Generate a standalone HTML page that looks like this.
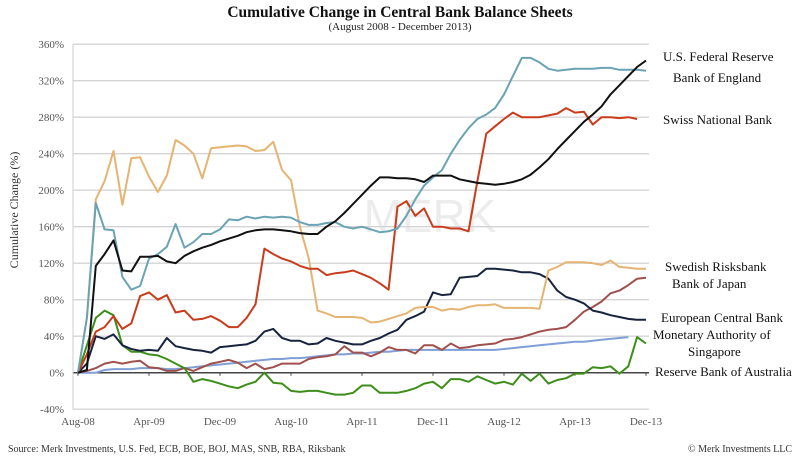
<!DOCTYPE html>
<html><head><meta charset="utf-8">
<style>
body{margin:0;background:#fff;}
svg{display:block;font-family:"Liberation Serif",serif;}
</style></head>
<body>
<svg id="chart" width="800" height="464" viewBox="0 0 800 464">
<text x="400" y="17" text-anchor="middle" font-size="15.5" font-weight="bold" fill="#111">Cumulative Change in Central Bank Balance Sheets</text>
<text x="400" y="30" text-anchor="middle" font-size="11" fill="#222">(August 2008 - December 2013)</text>
<text transform="translate(18,210) rotate(-90)" text-anchor="middle" font-size="12" fill="#333">Cumulative Change (%)</text>
<text x="430" y="232" text-anchor="middle" font-size="46" font-family="Liberation Sans, sans-serif" fill="#000" opacity="0.07">MERK</text>
<g id="grid"></g>
<g id="series"></g>
<g id="labels" font-size="13" fill="#111">
<text x="663" y="61">U.S. Federal Reserve</text>
<text x="673" y="82">Bank of England</text>
<text x="663" y="124">Swiss National Bank</text>
<text x="665" y="271">Swedish Risksbank</text>
<text x="672" y="288">Bank of Japan</text>
<text x="661" y="322">European Central Bank</text>
<text x="653" y="339">Monetary Authority of</text>
<text x="688" y="356">Singapore</text>
<text x="655" y="376">Reserve Bank of Australia</text>
</g>
<text x="8" y="452" font-size="10" fill="#333">Source: Merk Investments, U.S. Fed, ECB, BOE, BOJ, MAS, SNB, RBA, Riksbank</text>
<text x="792" y="452" text-anchor="end" font-size="10" fill="#333">© Merk Investments LLC</text>
</svg>
<script>
const yTicks = [-40,0,40,80,120,160,200,240,280,320,360];
const xTickLabels = ["Aug-08","Apr-09","Dec-09","Aug-10","Apr-11","Dec-11","Aug-12","Apr-13","Dec-13"];
const xTickMonths = [0,8,16,24,32,40,48,56,64];
const fed = [0,3,117,130,145,112,111,127,127,128,122,120,128,133,137,140,144,147,150,154,156,157,157,156,155,153,152,152,160,166,175,185,195,205,214,214,213,213,212,209,216,216,216,212,210,208,207,206,207,209,212,217,225,234,245,255,265,275,283,292,305,315,325,335,342];
const boe = [0,60,186,157,156,105,91,95,125,130,138,163,137,143,152,152,157,168,167,171,169,171,170,171,170,165,162,162,164,165,160,158,160,157,154,155,158,172,190,205,214,222,240,255,268,278,283,290,305,325,345,345,340,333,331,332,333,333,333,334,334,332,332,332,331];
const snb = [0,20,45,50,62,48,54,84,88,80,85,66,68,58,59,62,57,50,50,60,75,136,130,125,122,117,114,114,107,109,110,112,108,104,98,91,182,188,172,180,160,160,158,158,155,210,262,270,278,285,280,280,280,282,284,290,285,286,272,280,280,279,280,278,null];
const riksbank = [0,60,190,210,243,184,235,236,215,198,216,255,249,240,213,246,247,248,249,248,243,244,253,222,211,160,125,68,65,61,61,61,60,55,56,59,62,65,71,72,72,68,70,69,72,74,74,75,71,71,71,71,70,112,116,121,121,121,120,118,123,116,115,114,114];
const boj = [0,2,5,10,12,10,12,13,6,5,2,2,5,2,6,10,12,14,11,5,10,4,6,10,10,10,15,17,18,20,29,22,22,18,22,28,25,25,21,30,30,25,32,27,28,30,31,32,36,37,39,42,45,47,48,50,58,67,72,78,87,90,96,103,104];
const ecb = [0,10,40,37,42,30,26,24,25,24,38,29,27,25,24,22,28,29,30,31,35,45,48,38,35,35,31,32,38,35,33,31,31,35,38,43,47,58,62,67,88,85,86,104,105,106,114,114,113,112,110,110,108,103,90,83,80,76,68,66,63,61,59,58,58];
const mas = [0,0,0,3,4,4,4,5,5,5,4,4,5,6,7,8,9,10,11,12,13,14,15,15,16,16,17,18,19,20,20,21,21,22,23,23,24,25,25,25,25,25,25,25,25,25,25,25,26,27,28,29,30,31,32,33,34,34,35,36,37,38,39,null,null];
const rba = [0,30,60,68,63,30,23,23,20,19,15,10,5,-10,-7,-9,-12,-15,-17,-13,-10,0,-11,-12,-20,-21,-20,-20,-22,-24,-24,-22,-14,-14,-22,-22,-22,-20,-17,-12,-10,-17,-7,-7,-10,-4,-8,-12,-10,-13,-1,-9,-1,-12,-8,-6,-1,-1,6,5,7,-1,7,39,32];

const X0 = 78, PXM = 8.875, Y0 = 372.7, PXV = 0.9125;
function xScale(m){ return X0 + m*PXM; }
function yScale(v){ return Y0 - v*PXV; }
const NS = "http://www.w3.org/2000/svg";
const grid = document.getElementById('grid');
yTicks.forEach(t=>{
  const l = document.createElementNS(NS,'line');
  l.setAttribute('x1',73); l.setAttribute('x2',649);
  l.setAttribute('y1',yScale(t)); l.setAttribute('y2',yScale(t));
  l.setAttribute('stroke', t===0 ? '#444' : '#d4d4d8');
  l.setAttribute('stroke-width', t===0 ? 1.5 : 1.3);
  
  
  grid.appendChild(l);
  const tx = document.createElementNS(NS,'text');
  tx.setAttribute('x',64); tx.setAttribute('y',yScale(t)+4);
  tx.setAttribute('text-anchor','end'); tx.setAttribute('font-size','11'); tx.setAttribute('fill','#555');
  tx.textContent = t+'%';
  
  
  grid.appendChild(tx);
});
const ax = document.createElementNS(NS,'line');
ax.setAttribute('x1',73); ax.setAttribute('x2',73); ax.setAttribute('y1',yScale(360)); ax.setAttribute('y2',yScale(-40));
ax.setAttribute('stroke','#ccc');


grid.appendChild(ax);
xTickLabels.forEach((lab,i)=>{
  const tx = document.createElementNS(NS,'text');
  tx.setAttribute('x',xScale(xTickMonths[i])); tx.setAttribute('y',425);
  tx.setAttribute('text-anchor','middle'); tx.setAttribute('font-size','11'); tx.setAttribute('fill','#555');
  tx.textContent = lab;
  
  
  grid.appendChild(tx);
  const tk = document.createElementNS(NS,'line');
  tk.setAttribute('x1',xScale(xTickMonths[i])); tk.setAttribute('x2',xScale(xTickMonths[i]));
  tk.setAttribute('y1',Y0); tk.setAttribute('y2',Y0+3); tk.setAttribute('stroke','#444');
  
  
  grid.appendChild(tk);
});
const seriesG = document.getElementById('series');
function draw(arr,color,name){
  let d='', pen=false;
  arr.forEach((v,m)=>{
    if(v===null){pen=false;return;}
    d += (pen?'L':'M') + xScale(m).toFixed(1)+','+yScale(v).toFixed(1)+' ';
    pen=true;
  });
  const p = document.createElementNS(NS,'path');
  p.setAttribute('d',d); p.setAttribute('fill','none'); p.setAttribute('stroke',color);
  p.setAttribute('stroke-width','2'); p.setAttribute('stroke-linejoin','round');
  
  
  seriesG.appendChild(p);
}
draw(mas,'#7f9fd6','line-mas');
draw(boj,'#a0504c','line-boj');
draw(rba,'#3e8e1c','line-rba');
draw(ecb,'#18243e','line-ecb');
draw(riksbank,'#e5b472','line-riksbank');
draw(snb,'#c83c1c','line-snb');
draw(boe,'#6aa3b4','line-boe');
draw(fed,'#111111','line-fed');
</script>
</body></html>
